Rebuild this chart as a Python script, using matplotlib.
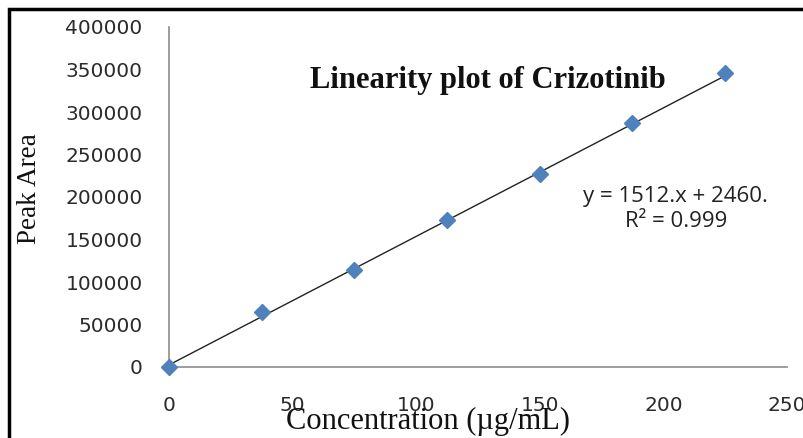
import matplotlib
matplotlib.use('Agg')
import matplotlib.pyplot as plt
import matplotlib.patches as patches

# 데이터
conc = [0, 37.5, 75, 112.5, 150, 187.5, 225]
area = [0, 64700, 114500, 173000, 227500, 286500, 346000]
slope = 1512
intercept = 2460
x_ticks = [0, 50, 100, 150, 200, 250]
y_ticks = [0, 50000, 100000, 150000, 200000, 250000, 300000, 350000, 400000]

W, H = 804, 438
fig = plt.figure(figsize=(W / 100, H / 100), dpi=100)

# 축 위치 (픽셀 기준)
x0, x1, y_top, y_bot = 169, 787, 27, 367
ax = fig.add_axes([x0 / W, (H - y_bot) / H, (x1 - x0) / W, (y_bot - y_top) / H])

# 추세선
fit_x = [conc[0], conc[-1]]
fit_y = [slope * v + intercept for v in fit_x]
ax.plot(fit_x, fit_y, color='#222222', linewidth=1.0, zorder=2, clip_on=False)

# 데이터 포인트
ax.plot(conc, area, linestyle='none', marker='D', markersize=8.5,
        color='#4F81BD', markeredgecolor='#4F81BD', zorder=3, clip_on=False)

ax.set_xlim(0, 250)
ax.set_ylim(0, 400000)
ax.set_xticks(x_ticks)
ax.set_yticks(y_ticks)
ax.set_xticklabels([str(v) for v in x_ticks])
ax.set_yticklabels([str(v) for v in y_ticks])
ax.tick_params(axis='both', length=0, labelsize=14.5, labelcolor='#2b2b2b')
ax.tick_params(axis='y', pad=19)
ax.tick_params(axis='x', pad=21)
for lab in ax.get_xticklabels() + ax.get_yticklabels():
    lab.set_fontfamily('DejaVu Sans')

for side in ['top', 'right']:
    ax.spines[side].set_visible(False)
for side in ['left', 'bottom']:
    ax.spines[side].set_color('#8c8c8c')
    ax.spines[side].set_linewidth(1.2)

# 제목 및 추세식
ax.text(0.516, 0.8206, 'Linearity plot of Crizotinib', transform=ax.transAxes,
        ha='center', va='baseline', fontsize=22, fontweight='bold',
        family='Liberation Serif', color='#111111')
ax.text(0.820, 0.485, 'y = 1512.x + 2460.', transform=ax.transAxes,
        ha='center', va='baseline', fontsize=16, family='Open Sans', color='#222222')
ax.text(0.820, 0.412, 'R² = 0.999', transform=ax.transAxes,
        ha='center', va='baseline', fontsize=16, family='Open Sans', color='#222222')

# 축 레이블
fig.text(30 / W, 1 - 189 / H, 'Peak Area', rotation=90, ha='center', va='center',
         fontsize=19.5, family='Liberation Serif', color='#111111')
fig.text(428 / W, 1 - 429 / H, 'Concentration (µg/mL)', ha='center', va='baseline',
         fontsize=22, family='Liberation Serif', color='#111111')

# 바깥 테두리
frame = patches.Rectangle((9 / W, -0.1), 1.2, 1 - 9 / H + 0.1, transform=fig.transFigure,
                          fill=False, edgecolor='black', linewidth=2.5)
fig.patches.append(frame)

fig.savefig('out.png', dpi=100)
